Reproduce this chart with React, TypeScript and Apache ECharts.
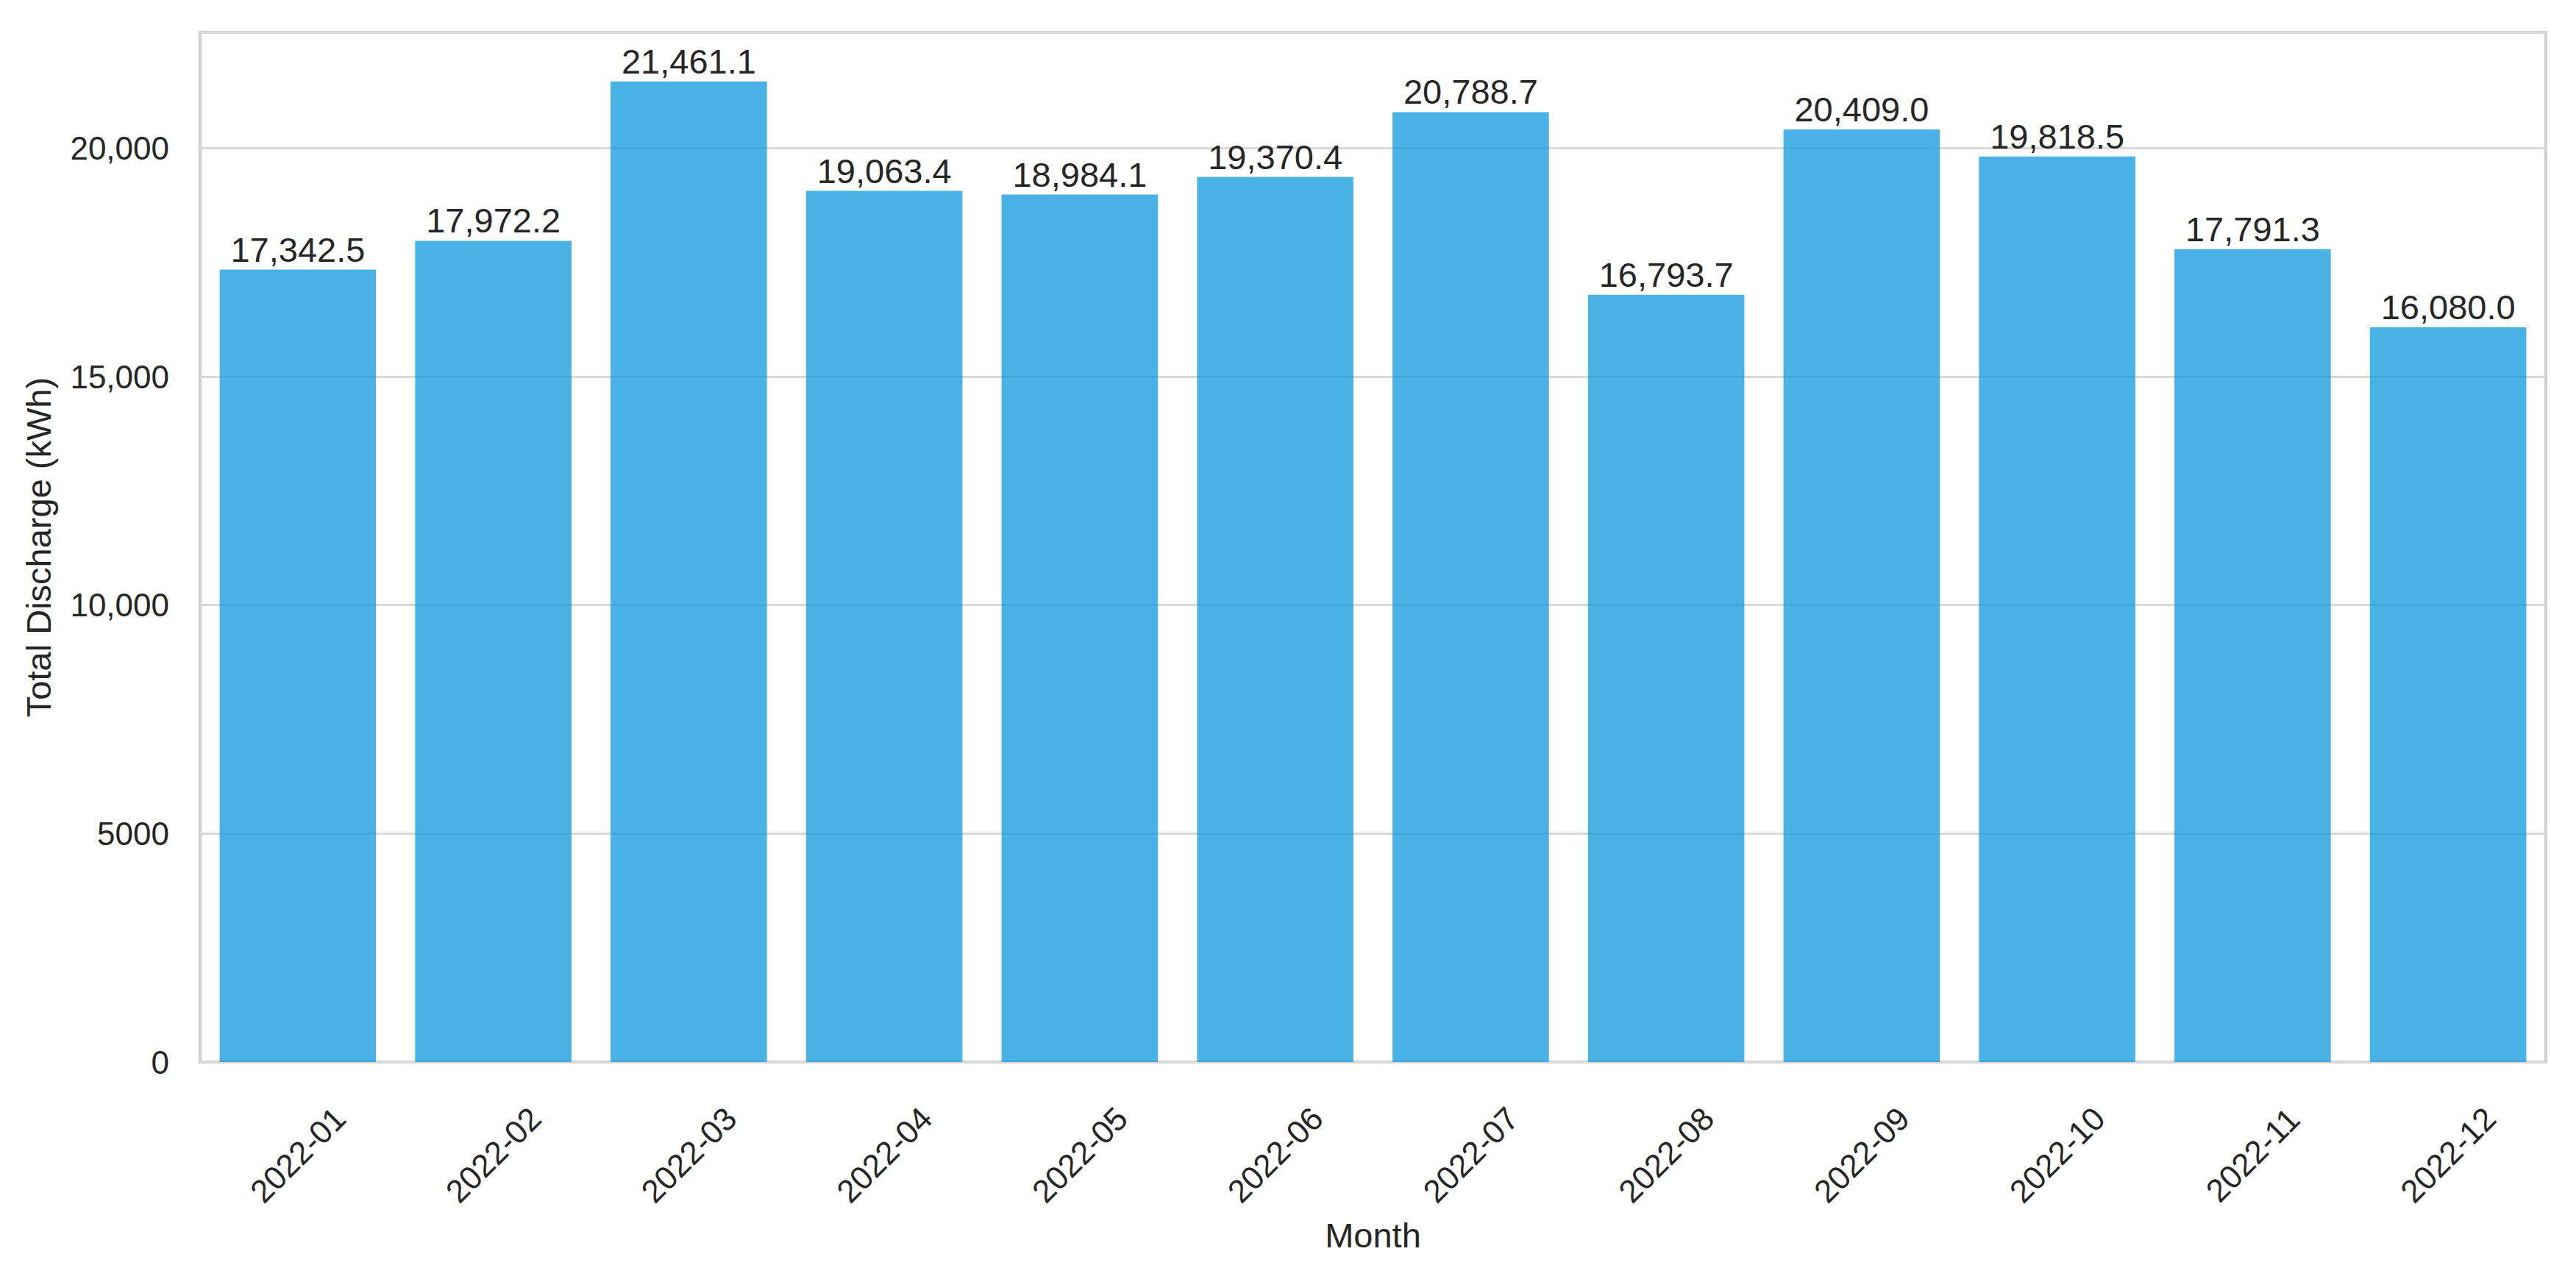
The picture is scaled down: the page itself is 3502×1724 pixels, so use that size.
import React, { useEffect, useRef } from "react";
import * as echarts from "echarts";

const months = [
  "2022-01", "2022-02", "2022-03", "2022-04", "2022-05", "2022-06",
  "2022-07", "2022-08", "2022-09", "2022-10", "2022-11", "2022-12",
];
const totalDischarge = [
  17342.5, 17972.2, 21461.1, 19063.4, 18984.1, 19370.4,
  20788.7, 16793.7, 20409.0, 19818.5, 17791.3, 16080.0,
];
const yMax = 22534;
const yInterval = 5000;
const xTitle = "Month";
const yTitle = "Total Discharge (kWh)";

const FONT = "'Liberation Sans', Arial, sans-serif";
const TEXT = "#262626";

function fmtTick(v: number): string {
  return v >= 10000 ? v.toLocaleString("en-US") : String(v);
}
function fmtLabel(v: number): string {
  return v.toLocaleString("en-US", { minimumFractionDigits: 1, maximumFractionDigits: 1 });
}

export default function App() {
  const ref = useRef<HTMLDivElement>(null);
  useEffect(() => {
    if (!ref.current) return;
    const chart = echarts.init(ref.current, undefined, { renderer: "svg" });
    chart.setOption({
      animation: false,
      backgroundColor: "#ffffff",
      grid: {
        left: 272,
        right: 41,
        top: 44,
        bottom: 280,
        show: true,
        borderColor: "#cfcfcf",
        borderWidth: 4,
        containLabel: false,
      },
      xAxis: {
        type: "category",
        data: months,
        boundaryGap: true,
        axisLine: { show: false },
        axisTick: { show: false },
        splitLine: { show: false },
        axisLabel: {
          interval: 0,
          rotate: 45,
          align: "center",
          verticalAlign: "middle",
          margin: 126,
          fontSize: 44,
          fontFamily: FONT,
          color: TEXT,
        },
        name: xTitle,
        nameLocation: "middle",
        nameGap: 212,
        nameTextStyle: { fontSize: 47, fontFamily: FONT, color: TEXT },
      },
      yAxis: {
        type: "value",
        min: 0,
        max: yMax,
        interval: yInterval,
        axisLine: { show: false },
        axisTick: { show: false },
        splitLine: { show: true, lineStyle: { color: "#d9d9d9", width: 3 } },
        axisLabel: {
          showMaxLabel: false,
          formatter: (v: number) => fmtTick(v),
          margin: 42,
          fontSize: 44,
          fontFamily: FONT,
          color: TEXT,
        },
        name: yTitle,
        nameLocation: "middle",
        nameGap: 196,
        nameTextStyle: { fontSize: 47, fontFamily: FONT, color: TEXT },
      },
      series: [
        {
          type: "bar",
          data: totalDischarge,
          barCategoryGap: "20%",
          itemStyle: { color: "rgba(15,152,220,0.75)" },
          label: {
            show: true,
            position: "top",
            distance: 4,
            formatter: (p: any) => fmtLabel(p.value),
            fontSize: 47,
            fontFamily: FONT,
            color: TEXT,
          },
        },
      ],
    });
    return () => chart.dispose();
  }, []);
  return (
    <div
      ref={ref}
      style={{ position: "fixed", left: 0, top: 0, width: 3502, height: 1724 }}
    />
  );
}
